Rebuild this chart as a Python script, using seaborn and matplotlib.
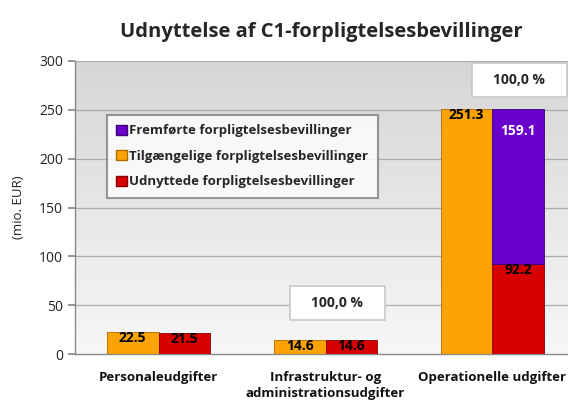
import numpy as np
import pandas as pd
import matplotlib
matplotlib.use("Agg")
import matplotlib.pyplot as plt
import seaborn as sns
from matplotlib.patches import Patch, Rectangle

categories = ["Personaleudgifter", "Infrastruktur- og\nadministrationsudgifter", "Operationelle udgifter"]
available = [22.5, 14.6, 251.3]      # Tilgængelige
used = [21.5, 14.6, 92.2]            # Udnyttede
carried = [0.0, 0.0, 159.1]          # Fremførte
series_names = ["Fremførte forpligtelsesbevillinger",
                "Tilgængelige forpligtelsesbevillinger",
                "Udnyttede forpligtelsesbevillinger"]
pct_labels = ["100,0 %", "100,0 %"]
y_ticks = [0, 50, 100, 150, 200, 250, 300]

C_PURPLE = "#6a00cc"
C_ORANGE = "#fba304"
C_RED = "#d60000"

sns.set_theme(style="white")
plt.rcParams["font.family"] = ["Open Sans", "DejaVu Sans"]

fig = plt.figure(figsize=(5.68, 4.03), dpi=100)
ax = fig.add_axes([75/568, 49/403, 501/568, 293/403])

df = pd.DataFrame({
    "cat": categories * 2,
    "val": available + used,
    "series": [series_names[1]] * 3 + [series_names[2]] * 3,
})
sns.barplot(data=df, x="cat", y="val", hue="series",
            hue_order=[series_names[1], series_names[2]],
            palette=[C_ORANGE, C_RED], dodge=True, width=0.62, gap=0,
            order=categories, ax=ax, legend=False, zorder=3,
            edgecolor="#b06a00", linewidth=0.6, saturation=1)

patches = [p for p in ax.patches]
orange_p = patches[:3]
red_p = patches[3:6]
for p in red_p:
    p.set_edgecolor("#8a0000")

# stacked carried-over (purple) bars on top of used bars
for i, p in enumerate(red_p):
    if carried[i] > 0:
        ax.bar(p.get_x() + p.get_width() / 2, carried[i], width=p.get_width(),
               bottom=used[i], color=C_PURPLE, edgecolor="#40007a",
               linewidth=0.6, zorder=3)

# value labels
def lab(p, val, y, color="black"):
    ax.text(p.get_x() + p.get_width() / 2, y, f"{val:.1f}", ha="center", va="top",
            fontsize=10, fontweight="bold", color=color, zorder=6)

for i in range(3):
    lab(orange_p[i], available[i], available[i] + 0.8)
    lab(red_p[i], used[i], used[i] + 0.8)
lab(red_p[2], carried[2], available[2] - 16, color="white")

# background gradient
grad = np.linspace(0, 1, 256).reshape(-1, 1)
cmap = matplotlib.colors.LinearSegmentedColormap.from_list("bg", ["#f7f7f7", "#d6d6d6"])
ax.imshow(grad, extent=[-0.5, 2.5, 0, 300], origin="lower", aspect="auto",
          cmap=cmap, zorder=0)

ax.set_xlim(-0.5, 2.5)
ax.set_ylim(0, 300)
ax.set_yticks(y_ticks)
ax.set_yticklabels([str(t) for t in y_ticks], fontsize=10, color="#222222")
for t in y_ticks[1:]:
    ax.axhline(t, color="#ababab", linewidth=0.9, zorder=1)

ax.set_xticks(range(3))
ax.set_xticklabels(categories, fontsize=9.5, fontweight="bold", color="#111111",
                   linespacing=1.35)
ax.set_xticks([-0.5, 0.5, 1.5, 2.5], minor=True)
ax.tick_params(axis="x", which="major", length=0, pad=12)
ax.tick_params(axis="x", which="minor", length=5, color="#888888", direction="out")
ax.tick_params(axis="y", length=5, color="#888888", direction="out", left=True)
ax.set_xlabel("")
ax.set_ylabel("(mio. EUR)", fontsize=9.5, labelpad=10, color="#222222")
for s in ["top", "right"]:
    ax.spines[s].set_visible(False)
for s in ["left", "bottom"]:
    ax.spines[s].set_color("#888888")
    ax.spines[s].set_linewidth(1)

# 100,0 % boxes
def pbox(xc, yc, text):
    w, h = 95 / 167, 34 / 293 * 300
    ax.add_patch(Rectangle((xc - w / 2, yc - h / 2), w, h, facecolor="white",
                           edgecolor="#c8c8c8", linewidth=1.2, zorder=5, clip_on=False))
    ax.text(xc, yc, text, ha="center", va="center", fontsize=10,
            fontweight="bold", zorder=6)

pbox(1.069, 52, pct_labels[0])
pbox(2.16, 281, pct_labels[1])

handles = [Patch(facecolor=C_PURPLE, edgecolor="#40007a"),
           Patch(facecolor=C_ORANGE, edgecolor="#b06a00"),
           Patch(facecolor=C_RED, edgecolor="#8a0000")]
leg = ax.legend(handles, series_names, loc="upper left",
                bbox_to_anchor=(32/501, (354-115)/293), frameon=True,
                fancybox=False, prop={"weight": "bold", "size": 9.5},
                handlelength=0.8, handleheight=0.8, handletextpad=0.2,
                labelspacing=0.95, borderpad=0.7, borderaxespad=0)
leg.get_frame().set_edgecolor("#7f7f7f")
leg.get_frame().set_linewidth(1.5)
leg.set_zorder(7)

fig.text(0.565, 0.92, "Udnyttelse af C1-forpligtelsesbevillinger", ha="center",
         va="center", fontsize=14.5, fontweight="bold")

fig.savefig("out.png", dpi=100, facecolor="white")
